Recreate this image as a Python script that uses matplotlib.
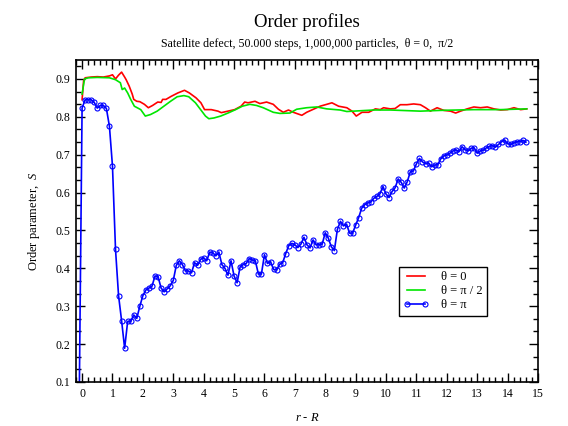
import numpy as np
import matplotlib
matplotlib.use("Agg")
import matplotlib.pyplot as plt
from matplotlib.ticker import MultipleLocator, AutoMinorLocator

plt.rcParams['font.family'] = ['Liberation Serif', 'DejaVu Serif']
plt.rcParams['mathtext.fontset'] = 'custom'
plt.rcParams['mathtext.rm'] = 'Liberation Serif'
plt.rcParams['mathtext.it'] = 'Liberation Serif:italic'

# theta = 0 (red)
red_r = [0.0, 0.05, 0.1, 0.3, 0.5, 0.7, 0.9, 1.0, 1.1, 1.2, 1.3, 1.4, 1.45, 1.55, 1.65,
         1.7, 1.8, 1.9, 2.05, 2.18, 2.32, 2.49, 2.6, 2.65, 2.76, 2.93, 3.15, 3.37, 3.53,
         3.75, 3.91, 4.03, 4.25, 4.47, 4.58, 4.8, 5.02, 5.23, 5.35, 5.46, 5.69, 5.85,
         6.07, 6.29, 6.46, 6.62, 6.79, 6.95, 7.23, 7.39, 7.61, 7.83, 8.05, 8.22, 8.44,
         8.71, 8.88, 9.02, 9.21, 9.43, 9.65, 9.81, 9.92, 10.14, 10.3, 10.47, 10.69,
         10.91, 11.13, 11.3, 11.46, 11.68, 11.9, 12.12, 12.29, 12.45, 12.67, 12.89,
         13.11, 13.33, 13.55, 13.77, 13.99, 14.21, 14.43, 14.63]
red_s = [0.845, 0.895, 0.903, 0.905, 0.906, 0.905, 0.908, 0.911, 0.900, 0.910, 0.918, 0.905,
         0.898, 0.881, 0.860, 0.846, 0.841, 0.840, 0.833, 0.824, 0.830, 0.839, 0.838, 0.846,
         0.846, 0.854, 0.863, 0.870, 0.863, 0.850, 0.837, 0.819, 0.819, 0.815, 0.811, 0.815,
         0.819, 0.828, 0.839, 0.837, 0.841, 0.835, 0.839, 0.833, 0.820, 0.812, 0.818, 0.812,
         0.804, 0.812, 0.820, 0.828, 0.833, 0.837, 0.828, 0.824, 0.815, 0.802, 0.812, 0.812,
         0.821, 0.819, 0.824, 0.821, 0.822, 0.832, 0.832, 0.834, 0.832, 0.824, 0.815, 0.824,
         0.817, 0.815, 0.810, 0.815, 0.821, 0.826, 0.824, 0.826, 0.821, 0.818, 0.819, 0.824,
         0.819, 0.821]

# theta = pi/2 (green)
green_r = [0.0, 0.08, 0.2, 0.5, 0.9, 1.1, 1.26, 1.32, 1.4, 1.5, 1.6, 1.72, 1.93, 2.08, 2.25,
           2.47, 2.69, 2.91, 3.13, 3.35, 3.51, 3.73, 3.9, 4.06, 4.17, 4.34, 4.56, 4.83, 5.05,
           5.27, 5.52, 5.74, 5.96, 6.29, 6.51, 6.84, 7.06, 7.39, 7.72, 8.05, 8.49, 8.71,
           9.15, 9.59, 10.14, 11.13, 11.79, 12.89, 13.77, 14.63]
green_s = [0.86, 0.900, 0.903, 0.904, 0.903, 0.898, 0.890, 0.872, 0.876, 0.863, 0.846, 0.828,
           0.819, 0.802, 0.806, 0.815, 0.828, 0.841, 0.853, 0.856, 0.853, 0.837, 0.819, 0.802,
           0.795, 0.797, 0.802, 0.811, 0.819, 0.828, 0.833, 0.830, 0.824, 0.812, 0.809, 0.810,
           0.820, 0.824, 0.826, 0.821, 0.818, 0.814, 0.816, 0.818, 0.818, 0.815, 0.817, 0.819,
           0.819, 0.821]

# theta = pi (blue, markers), sampled every 0.1 from r-R = 0 to 14.6, plus a start below axis
blue_start_r = -0.1
blue_start_s = 0.0
blue_s = [0.823, 0.845, 0.845, 0.845, 0.838, 0.823, 0.830, 0.830, 0.822, 0.775,
          0.670, 0.450, 0.328, 0.262, 0.189, 0.260, 0.260, 0.277, 0.268, 0.300,
          0.328, 0.343, 0.348, 0.353, 0.380, 0.378, 0.348, 0.338, 0.346, 0.354,
          0.368, 0.408, 0.420, 0.410, 0.393, 0.393, 0.388, 0.415, 0.408, 0.424,
          0.428, 0.420, 0.443, 0.441, 0.433, 0.443, 0.410, 0.400, 0.382, 0.420,
          0.380, 0.362, 0.404, 0.410, 0.413, 0.426, 0.422, 0.420, 0.385, 0.385,
          0.436, 0.413, 0.418, 0.397, 0.396, 0.411, 0.415, 0.439, 0.460, 0.466,
          0.462, 0.455, 0.464, 0.482, 0.462, 0.454, 0.475, 0.462, 0.462, 0.464,
          0.494, 0.480, 0.457, 0.447, 0.503, 0.524, 0.512, 0.517, 0.493, 0.493,
          0.514, 0.534, 0.559, 0.568, 0.573, 0.575, 0.585, 0.590, 0.597, 0.616,
          0.596, 0.587, 0.603, 0.613, 0.636, 0.627, 0.612, 0.629, 0.655, 0.657,
          0.676, 0.690, 0.681, 0.676, 0.678, 0.668, 0.673, 0.673, 0.689, 0.697,
          0.699, 0.704, 0.710, 0.713, 0.708, 0.721, 0.713, 0.710, 0.717, 0.718,
          0.704, 0.710, 0.712, 0.718, 0.722, 0.724, 0.720, 0.727, 0.734, 0.739,
          0.729, 0.727, 0.731, 0.734, 0.734, 0.738, 0.733]
blue_r = [blue_start_r] + list(np.round(np.arange(len(blue_s)) * 0.1, 2))
blue_vals = [blue_start_s] + blue_s

legend_labels = ['θ = 0', 'θ = π / 2', 'θ = π']

fig = plt.figure(figsize=(5.68, 4.26), dpi=100)
ax = fig.add_axes([76/568, 44/426, (538-76)/568, (382-60)/426])

ax.plot(red_r, red_s, color='#ff0000', lw=1.2, label=legend_labels[0])
ax.plot(green_r, green_s, color='#00e600', lw=1.2, label=legend_labels[1])
ax.plot(blue_r, blue_vals, color='#0000ff', lw=1.2, marker='o', ms=3.6,
        mfc='none', mec='#0000ff', mew=0.8, label=legend_labels[2])

ax.set_xlim(-0.2, 15)
ax.set_ylim(0.1, 0.95)
ax.xaxis.set_major_locator(MultipleLocator(1))
ax.xaxis.set_minor_locator(AutoMinorLocator(5))
ax.yaxis.set_major_locator(MultipleLocator(0.1))
ax.yaxis.set_minor_locator(AutoMinorLocator(3))
ax.tick_params(which='both', direction='in', top=True, right=True, labelsize=8.5,
               width=1.0, colors='black')
ax.tick_params(which='major', length=6.5, pad=4)
ax.tick_params(which='minor', length=3.3)
for sp in ax.spines.values():
    sp.set_linewidth(1.2)

ax.set_xlabel(r'$r$ - $R$', fontsize=9, labelpad=9)
ax.set_ylabel(r'Order parameter,  $S$', fontsize=9, labelpad=10)

ax.text(0.5, 1.102, 'Order profiles', transform=ax.transAxes, ha='center',
        va='baseline', fontsize=13.5)
ax.text(0.5, 1.04, 'Satellite defect, 50.000 steps, 1,000,000 particles,  θ = 0,  π/2',
        transform=ax.transAxes, ha='center', va='baseline', fontsize=8.6)

leg = ax.legend(loc='upper left', bbox_to_anchor=(0.699, 0.357), fontsize=9,
                fancybox=False, framealpha=1, edgecolor='black', handlelength=2.0,
                borderpad=0.35, labelspacing=0.15, handletextpad=1.0, numpoints=2,
                borderaxespad=0)
leg.get_frame().set_linewidth(1.0)

fig.savefig('out.png', dpi=100)
